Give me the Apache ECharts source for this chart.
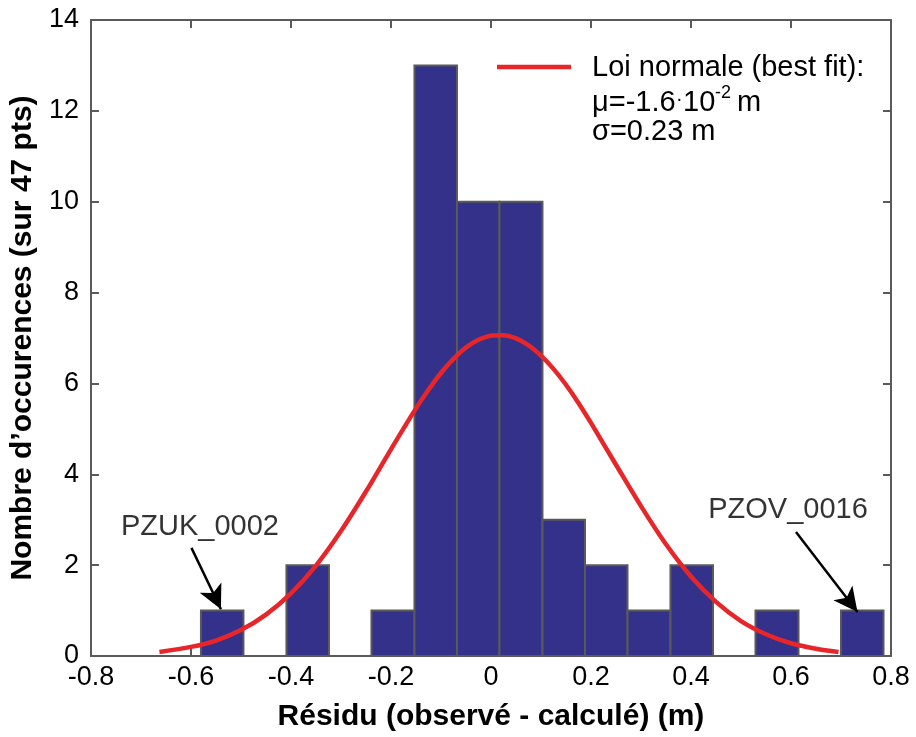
<!DOCTYPE html>
<html>
<head>
<meta charset="utf-8">
<script src="https://cdn.jsdelivr.net/npm/echarts@6/dist/echarts.min.js"></script>
<style>html,body{margin:0;padding:0;background:#fff;}#c{width:916px;height:737px;}</style>
</head>
<body>
<div id="c"></div>
<script>
// Histogram bins: left edge, right edge, count
var binStart = [-0.580, -0.495, -0.409, -0.324, -0.239, -0.153, -0.068, 0.017, 0.103, 0.188, 0.273, 0.359, 0.444, 0.529, 0.615, 0.700];
var binEnd   = [-0.495, -0.409, -0.324, -0.239, -0.153, -0.068, 0.017, 0.103, 0.188, 0.273, 0.359, 0.444, 0.529, 0.615, 0.700, 0.785];
var counts   = [1, 0, 2, 0, 1, 13, 10, 10, 3, 2, 1, 2, 0, 1, 0, 1];

// Fitted normal curve
var curveX = [-0.663, -0.60, -0.55, -0.50, -0.45, -0.40, -0.35, -0.30, -0.25, -0.20, -0.15, -0.125, -0.10, -0.075, -0.05, -0.025, 0.00, 0.025, 0.05, 0.075, 0.10, 0.125, 0.15, 0.175, 0.20, 0.25, 0.30, 0.35, 0.40, 0.45, 0.50, 0.55, 0.60, 0.65, 0.695];
var curveY = [0.09, 0.20, 0.34, 0.57, 0.91, 1.38, 1.99, 2.75, 3.62, 4.55, 5.45, 5.86, 6.23, 6.54, 6.79, 6.96, 7.05, 7.06, 6.99, 6.84, 6.61, 6.32, 5.97, 5.57, 5.13, 4.21, 3.30, 2.46, 1.75, 1.19, 0.77, 0.48, 0.28, 0.16, 0.09];

// Annotations
var annotNames = ['PZUK_0002', 'PZOV_0016'];
var annotTextX = [-0.582, 0.594];
var annotTextY = [2.84, 3.21];
var arrowFromX = [-0.599, 0.610];
var arrowFromY = [2.38, 2.73];
var arrowToX = [-0.540, 0.733];
var arrowToY = [1.03, 0.97];

var xTicks = { min: -0.8, max: 0.8, interval: 0.2 };
var yTicks = { min: 0, max: 14, interval: 2 };

var FONT = "'Liberation Sans', Arial, sans-serif";

var histData = binStart.map(function (s, i) { return [s, binEnd[i], counts[i]]; });
var curveData = curveX.map(function (x, i) { return [x, curveY[i]]; });
var annotData = annotNames.map(function (n, i) { return { name: n, value: [annotTextX[i], annotTextY[i]] }; });
var arrowData = annotNames.map(function (n, i) {
  return [{ coord: [arrowFromX[i], arrowFromY[i]] }, { coord: [arrowToX[i], arrowToY[i]] }];
});

var axisLineStyle = { color: '#5a5a5a', width: 2 };
var chart = echarts.init(document.getElementById('c'), null, { renderer: 'canvas' });

function txt(x, y, s, size) {
  return { type: 'text', x: x, y: y, z: 10,
    style: { text: s, fill: '#000', font: size + 'px ' + FONT, align: 'left', verticalAlign: 'middle' } };
}

chart.setOption({
  animation: false,
  backgroundColor: '#fff',
  grid: { left: 86, right: 25, top: 20, bottom: 81, containLabel: false },
  xAxis: [{
    type: 'value', min: xTicks.min, max: xTicks.max, interval: xTicks.interval,
    position: 'bottom',
    axisLine: { show: true, onZero: false, lineStyle: axisLineStyle },
    axisTick: { show: true, inside: true, length: 8, lineStyle: axisLineStyle },
    axisLabel: { color: '#000', fontFamily: FONT, fontSize: 27, margin: 8 },
    splitLine: { show: false },
    name: 'Résidu (observé - calculé) (m)', nameLocation: 'middle', nameGap: 46,
    nameTextStyle: { color: '#000', fontFamily: FONT, fontWeight: 'bold', fontSize: 30 }
  }, {
    type: 'value', min: xTicks.min, max: xTicks.max, interval: xTicks.interval,
    position: 'top',
    axisLine: { show: true, onZero: false, lineStyle: axisLineStyle },
    axisTick: { show: true, inside: true, length: 8, lineStyle: axisLineStyle },
    axisLabel: { show: false }, splitLine: { show: false }
  }],
  yAxis: [{
    type: 'value', min: yTicks.min, max: yTicks.max, interval: yTicks.interval,
    position: 'left',
    axisLine: { show: true, onZero: false, lineStyle: axisLineStyle },
    axisTick: { show: true, inside: true, length: 8, lineStyle: axisLineStyle },
    axisLabel: { color: '#000', fontFamily: FONT, fontSize: 27, margin: 12 },
    splitLine: { show: false },
    name: "Nombre d’occurences (sur 47 pts)", nameLocation: 'middle', nameGap: 37, nameRotate: 90,
    nameTextStyle: { color: '#000', fontFamily: FONT, fontWeight: 'bold', fontSize: 30 }
  }, {
    type: 'value', min: yTicks.min, max: yTicks.max, interval: yTicks.interval,
    position: 'right',
    axisLine: { show: true, onZero: false, lineStyle: axisLineStyle },
    axisTick: { show: true, inside: true, length: 8, lineStyle: axisLineStyle },
    axisLabel: { show: false }, splitLine: { show: false }
  }],
  series: [{
    type: 'custom',
    name: 'hist',
    xAxisIndex: 0, yAxisIndex: 0,
    data: histData,
    z: 2,
    renderItem: function (params, api) {
      var c = api.value(2);
      if (!c) return null;
      var p0 = api.coord([api.value(0), c]);
      var p1 = api.coord([api.value(1), 0]);
      return {
        type: 'rect',
        shape: { x: p0[0], y: p0[1], width: p1[0] - p0[0], height: p1[1] - p0[1] },
        style: { fill: '#33318a', stroke: '#5a5a5a', lineWidth: 2 }
      };
    }
  }, {
    type: 'line',
    name: 'Loi normale',
    xAxisIndex: 0, yAxisIndex: 0,
    data: curveData,
    smooth: 0.3,
    showSymbol: false,
    symbol: 'none',
    z: 5,
    lineStyle: { color: '#e8262a', width: 4.5 },
    markLine: {
      silent: true,
      symbol: ['none', 'arrow'],
      symbolSize: [18, 24],
      label: { show: false },
      lineStyle: { color: '#000', width: 2.5, type: 'solid' },
      data: arrowData
    }
  }, {
    type: 'scatter',
    name: 'annot',
    xAxisIndex: 0, yAxisIndex: 0,
    data: annotData,
    symbolSize: 0,
    z: 6,
    label: {
      show: true, position: 'inside', formatter: '{b}',
      color: '#000', fontFamily: FONT, fontSize: 29
    }
  }],
  graphic: [
    { type: 'line', shape: { x1: 497, y1: 67, x2: 571, y2: 67 }, style: { stroke: '#e8262a', lineWidth: 4.5 }, z: 10 },
    txt(592, 68, 'Loi normale (best fit):', 29),
    txt(592, 103, 'μ=-1.6', 29),
    txt(676, 99, '·', 20),
    txt(683, 103, '10', 29),
    txt(715, 93, '-2', 18),
    txt(737, 103, 'm', 29),
    txt(592, 132, 'σ=0.23 m', 29)
  ]
});
</script>
</body>
</html>
